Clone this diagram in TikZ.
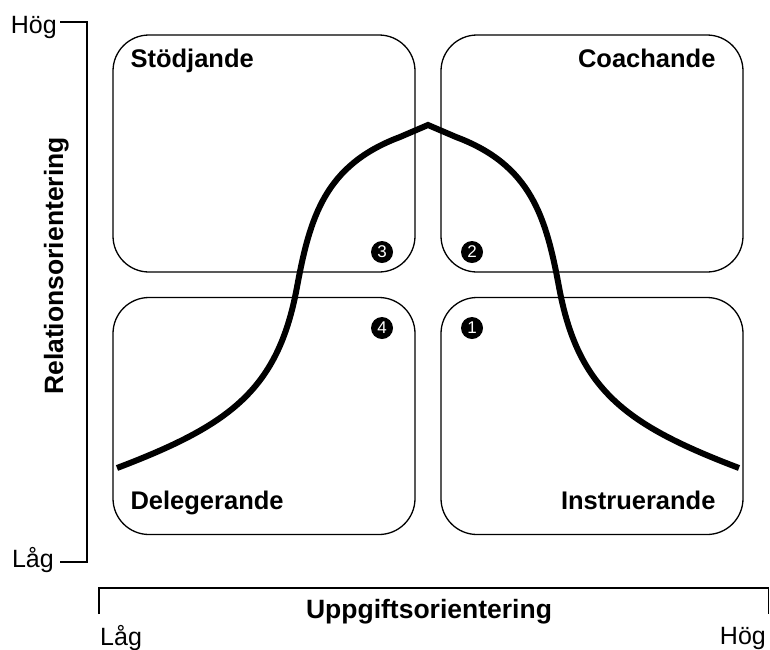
\documentclass[tikz,border=0pt]{standalone}
\usepackage{fontspec}
\setmainfont{Liberation Sans}
\usepackage{tikz}
\usetikzlibrary{calc}

\begin{document}
\begin{tikzpicture}[x=1pt, y=-1pt,
    every node/.style={font=\fontsize{25}{30}\selectfont, inner sep=0pt},
    quad/.style={draw, line width=1.3pt, rounded corners=36pt, minimum width=302pt, minimum height=237pt},
    lbl/.style={font=\fontsize{25.5}{30}\selectfont\bfseries},
    title/.style={font=\fontsize{26.5}{30}\selectfont\bfseries},
    num/.style={circle, fill=black, text=white, minimum size=22pt, font=\fontsize{17}{20}\selectfont},
    axis/.style={line width=1.3pt},
    curve/.style={line width=6pt, line join=miter}]
  \useasboundingbox (0,0) rectangle (770,649);
  % quadrants
  \node[quad] (stod)  at (264,153.5) {};
  \node[quad] (coach) at (592,153.5) {};
  \node[quad] (deleg) at (264,416)   {};
  \node[quad] (instr) at (592,416)   {};
  \node[lbl, anchor=base west] at ($(stod.north west)+(18,33)$)   {Stödjande};
  \node[lbl, anchor=base east] at ($(coach.north east)+(-28,33)$) {Coachande};
  \node[lbl, anchor=base west] at ($(deleg.south west)+(18,-26)$) {Delegerande};
  \node[lbl, anchor=base east] at ($(instr.south east)+(-28,-26)$) {Instruerande};
  \node[num] (n3) at (382,252) {3};
  \node[num] (n2) at (472,252) {2};
  \node[num] (n4) at (382,328) {4};
  \node[num] (n1) at (472,328) {1};
  % curve
  \draw[curve] (117,468) .. controls (230,425) and (278,390) .. (297,287)
    .. controls (310,217) and (325,165) .. (400,137) -- (428,125) -- (456,137)
    .. controls (531,165) and (546,217) .. (559,287)
    .. controls (578,390) and (626,425) .. (739,468);
  % axes
  \draw[axis] (60,22) -| (87,562) -- (60,562);
  \node[anchor=base east] (yhi) at (57,33)  {Hög};
  \node[anchor=base east] (ylo) at (54,567) {Låg};
  \node[title, anchor=base, rotate=90] (ytitle) at (63,266) {Relationsorientering};
  \draw[axis] (99,614) |- (768.5,588) -- (768.5,614);
  \node[anchor=base west] (xlo) at (100,645) {Låg};
  \node[anchor=base east] (xhi) at (766,644) {Hög};
  \node[title, anchor=base] (xtitle) at (429,618) {Uppgiftsorientering};
\end{tikzpicture}
\end{document}
